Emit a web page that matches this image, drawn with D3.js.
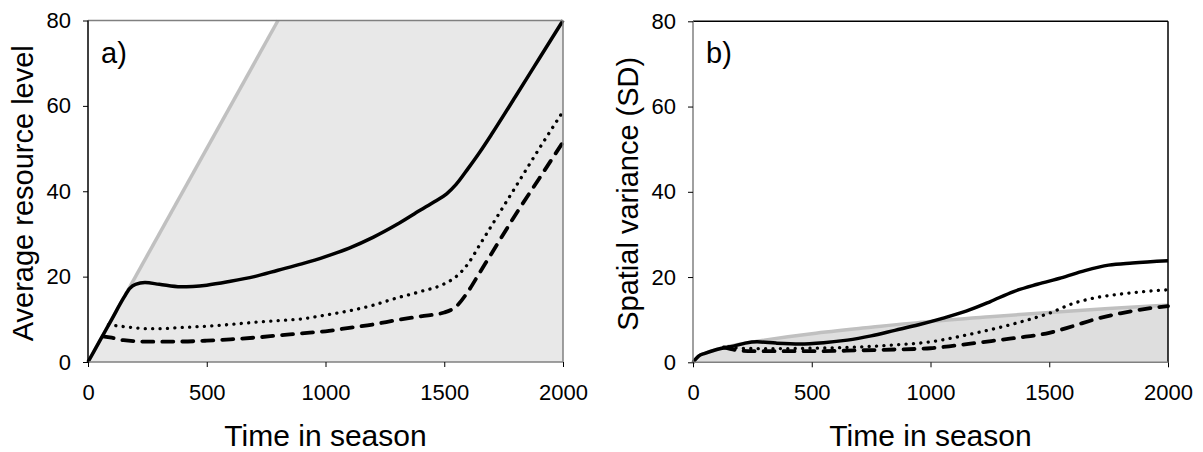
<!DOCTYPE html>
<html>
<head>
<meta charset="utf-8">
<script src="https://cdn.jsdelivr.net/npm/d3@7"></script>
<style>
  body { margin: 0; background: #fff; }
  text { font-family: Arial, "Liberation Sans", sans-serif; fill: #000; }
</style>
</head>
<body>
<svg id="chart" width="1203" height="452"></svg>
<script>
// ticks
var timeTicks = [0, 500, 1000, 1500, 2000];
var valueTicks = [0, 20, 40, 60, 80];

// panel a) average resource level, [time, value]
var aBound = [[0, 0], [800, 80], [2000, 80]];
var aSolid = [[0, 0], [50, 5], [100, 10], [150, 15], [175, 17.2], [200, 18.2], [240, 18.6], [300, 18.2],
    [390, 17.6], [500, 18.0], [600, 18.9], [700, 20], [800, 21.5], [900, 23], [1000, 24.7], [1100, 26.7],
    [1200, 29.2], [1300, 32.2], [1400, 35.6], [1460, 37.6], [1510, 39.4], [1550, 41.6], [1600, 45.3],
    [1650, 49.2], [1700, 53.4], [1800, 62.2], [1900, 71.1], [2000, 80]];
var aDotted = [[86, 8.7], [150, 8.3], [250, 7.8], [300, 7.8], [400, 8.1], [500, 8.4], [600, 8.8], [700, 9.3],
    [800, 9.7], [900, 10.1], [1000, 11], [1100, 12], [1200, 13.3], [1300, 15], [1400, 16.5], [1500, 18.3],
    [1550, 20], [1600, 23], [1650, 27.5], [1700, 32], [1800, 41], [1900, 50], [2000, 58.7]];
var aDashed = [[62, 6], [100, 5.7], [150, 5.1], [250, 4.75], [400, 4.8], [500, 5.0], [600, 5.3], [700, 5.7],
    [800, 6.2], [900, 6.7], [1000, 7.2], [1100, 8], [1200, 8.8], [1300, 9.8], [1400, 10.7], [1500, 11.6],
    [1550, 13], [1600, 16.5], [1650, 21], [1700, 25.5], [1800, 34.5], [1900, 43], [2000, 51.5]];

// panel b) spatial variance (SD)
var bBound = [[0, 0], [25, 1.5], [50, 2.1], [100, 3.0], [200, 4.3], [300, 5.2], [400, 6.0], [500, 6.7],
    [750, 8.2], [1000, 9.6], [1250, 10.7], [1500, 11.7], [1750, 12.6], [2000, 13.4]];
var bSolid = [[0, 0], [25, 1.5], [50, 2.1], [100, 3.0], [170, 3.8], [220, 4.5], [270, 4.8], [350, 4.5],
    [450, 4.3], [550, 4.6], [650, 5.2], [750, 6.2], [850, 7.5], [950, 8.8], [1050, 10.3], [1150, 12],
    [1250, 14.2], [1350, 16.6], [1450, 18.3], [1550, 19.8], [1650, 21.5], [1750, 22.8], [1850, 23.3], [2000, 23.8]];
var bDotted = [[150, 3.6], [200, 3.3], [300, 3.2], [500, 3.3], [700, 3.6], [850, 4.1], [1000, 4.8], [1100, 5.8],
    [1200, 7], [1300, 8.3], [1400, 9.8], [1500, 11.5], [1600, 13.8], [1700, 15.2], [1800, 16], [1900, 16.6], [2000, 17]];
var bDashed = [[130, 3.5], [180, 2.9], [250, 2.6], [500, 2.6], [700, 2.8], [850, 3.0], [1000, 3.3], [1100, 3.9],
    [1200, 4.6], [1300, 5.3], [1400, 6.0], [1500, 6.9], [1600, 8.5], [1700, 10.2], [1800, 11.5], [1900, 12.5], [2000, 13.2]];

var svg = d3.select('#chart');

function drawPanel(p) {
    var x = d3.scaleLinear().domain([0, 2000]).range([p.left, p.left + 475]);
    var y = d3.scaleLinear().domain([0, 80]).range([p.bottom, p.top]);
    var g = svg.append('g');

    var area = d3.area().x(d => x(d[0])).y0(y(0)).y1(d => y(d[1])).curve(p.boundCurve);
    g.append('path').datum(p.bound).attr('d', area).attr('fill', p.fill);

    var line = d3.line().x(d => x(d[0])).y(d => y(d[1]));
    g.append('path').datum(p.boundLine).attr('d', line.curve(p.boundCurve))
        .attr('fill', 'none').attr('stroke', '#c0c0c0').attr('stroke-width', 3.5);

    var smooth = d3.line().x(d => x(d[0])).y(d => y(d[1])).curve(d3.curveMonotoneX);
    g.append('path').datum(p.dashed).attr('d', smooth).attr('fill', 'none')
        .attr('stroke', '#000').attr('stroke-width', 3.8).attr('stroke-linecap', 'round')
        .attr('stroke-dasharray', '11 9');
    g.append('path').datum(p.dotted).attr('d', smooth).attr('fill', 'none')
        .attr('stroke', '#000').attr('stroke-width', 3.3).attr('stroke-linecap', 'round')
        .attr('stroke-dasharray', '0.1 7.3');
    g.append('path').datum(p.solid).attr('d', smooth).attr('fill', 'none')
        .attr('stroke', '#000').attr('stroke-width', 3.5);

    // frame
    var x0 = x(0), x1 = x(2000), y0 = y(0), y1 = y(80);
    g.append('line').attr('x1', x0).attr('x2', x1).attr('y1', y1).attr('y2', y1)
        .attr('stroke', p.topColor).attr('stroke-width', 1.5);
    g.append('line').attr('x1', x1).attr('x2', x1).attr('y1', y1).attr('y2', y0)
        .attr('stroke', p.topColor).attr('stroke-width', 1.5);
    g.append('line').attr('x1', x0).attr('x2', x1).attr('y1', y0).attr('y2', y0)
        .attr('stroke', '#808080').attr('stroke-width', 1.5);
    g.append('line').attr('x1', x0).attr('x2', x0).attr('y1', y1).attr('y2', y0)
        .attr('stroke', p.leftColor).attr('stroke-width', 1.5);

    var ax = g.append('g').attr('transform', `translate(0,${y0})`)
        .call(d3.axisBottom(x).tickValues(timeTicks).tickFormat(d3.format('d')).tickSize(5).tickPadding(17));
    var ay = g.append('g').attr('transform', `translate(${x0},0)`)
        .call(d3.axisLeft(y).tickValues(valueTicks).tickFormat(d3.format('d')).tickSize(5).tickPadding(12));
    [ax, ay].forEach(a => {
        a.select('.domain').remove();
        a.selectAll('line').attr('stroke', '#000');
        a.selectAll('text').attr('font-size', 22).attr('font-family', 'Arial, "Liberation Sans", sans-serif');
    });

    g.append('text').attr('x', p.left + 13).attr('y', p.top + 42).attr('font-size', 29).text(p.tag);
    g.append('text').attr('transform', `translate(${p.left - 55},${(y0 + y1) / 2 + 2}) rotate(-90)`)
        .attr('text-anchor', 'middle').attr('font-size', 29).text(p.yTitle);
    g.append('text').attr('x', (x0 + x1) / 2).attr('y', 446)
        .attr('text-anchor', 'middle').attr('font-size', 30).text('Time in season');
}

drawPanel({
    left: 88, top: 20.5, bottom: 362, tag: 'a)', yTitle: 'Average resource level',
    bound: aBound, boundLine: aBound.slice(0, 2), boundCurve: d3.curveLinear, fill: '#e8e8e8',
    solid: aSolid, dotted: aDotted, dashed: aDashed, topColor: '#808080', leftColor: '#000'
});
drawPanel({
    left: 693, top: 21.3, bottom: 362.3, tag: 'b)', yTitle: 'Spatial variance (SD)',
    bound: bBound, boundLine: bBound, boundCurve: d3.curveMonotoneX, fill: '#dedede',
    solid: bSolid, dotted: bDotted, dashed: bDashed, topColor: '#000', leftColor: '#808080'
});
</script>
</body>
</html>
